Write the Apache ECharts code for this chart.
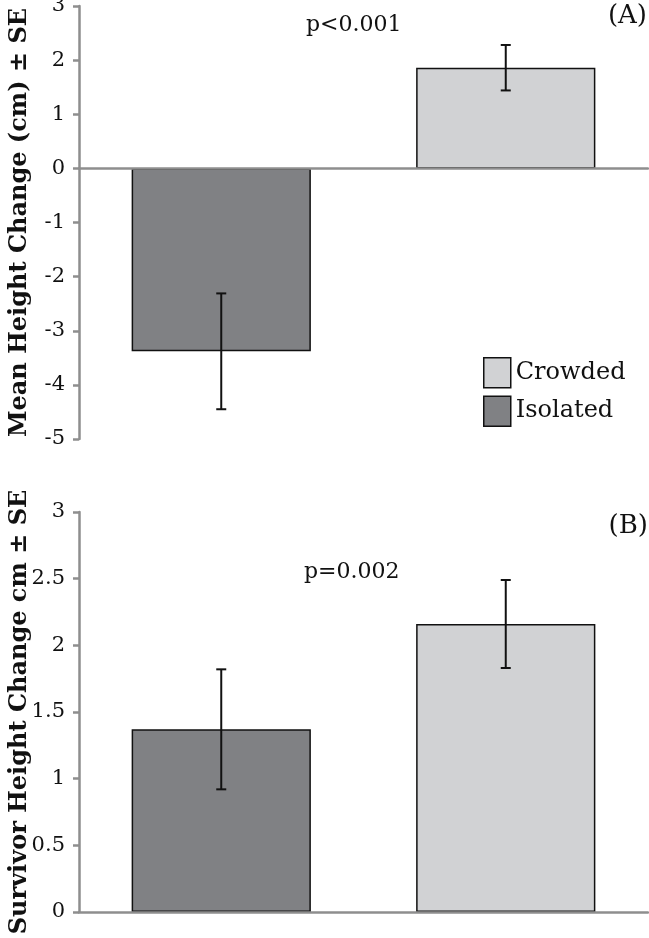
<!DOCTYPE html>
<html>
<head>
<meta charset="utf-8">
<script src="https://cdn.jsdelivr.net/npm/echarts@6/dist/echarts.min.js"></script>
<style>
html,body{margin:0;padding:0;background:#fff;}
#chart{width:649px;height:938px;}
</style>
</head>
<body>
<div id="chart"></div>
<script>
const categories = ['Isolated', 'Crowded'];
const legendNames = ['Crowded', 'Isolated'];
// Panel A: mean height change (cm) and SE
const meanA = [-3.38, 1.86];
const seA = [1.07, 0.42];
// Panel B: survivor height change (cm) and SE
const meanB = [1.37, 2.16];
const seB = [0.45, 0.33];
const axisA = { min: -5, max: 3, interval: 1 };
const axisB = { min: 0, max: 3, interval: 0.5 };
const titleA = 'Mean Height Change (cm) ± SE';
const titleB = 'Survivor Height Change cm ± SE';
const pA = 'p<0.001';
const pB = 'p=0.002';
const panelA = '(A)';
const panelB = '(B)';

const colors = { Isolated: '#808184', Crowded: '#d1d2d4' };
const FONT = 'DejaVu Serif';
const AXIS_GRAY = '#8e8e8e';

function seriesFor(mean, idx) {
  return categories.map((name, i) => ({
    name: name,
    type: 'bar',
    xAxisIndex: idx, yAxisIndex: idx,
    barGap: '-100%',
    barCategoryGap: '37%',
    data: categories.map((c, j) => (j === i ? mean[j] : '-')),
    itemStyle: { color: colors[name], borderColor: '#111', borderWidth: 1.5 },
    emphasis: { disabled: true },
    z: 2
  }));
}

function errorSeries(mean, se, idx) {
  return {
    type: 'custom',
    xAxisIndex: idx, yAxisIndex: idx,
    data: mean.map((m, i) => [i, m - se[i], m + se[i]]),
    encode: { x: 0, y: [1, 2] },
    z: 10,
    silent: true,
    renderItem: function (params, api) {
      const x = api.value(0);
      const lo = api.coord([x, api.value(1)]);
      const hi = api.coord([x, api.value(2)]);
      const hw = 5;
      const st = { stroke: '#111', lineWidth: 2 };
      return {
        type: 'group',
        children: [
          { type: 'line', shape: { x1: lo[0], y1: lo[1], x2: hi[0], y2: hi[1] }, style: st },
          { type: 'line', shape: { x1: lo[0] - hw, y1: lo[1], x2: lo[0] + hw, y2: lo[1] }, style: st },
          { type: 'line', shape: { x1: hi[0] - hw, y1: hi[1], x2: hi[0] + hw, y2: hi[1] }, style: st }
        ]
      };
    }
  };
}

function yAxisFor(ax, idx, name) {
  return {
    type: 'value', gridIndex: idx,
    min: ax.min, max: ax.max, interval: ax.interval,
    name: name, nameLocation: 'middle', nameRotate: 90, nameGap: 47,
    nameMoveOverlap: false,
    nameTextStyle: { fontFamily: FONT, fontWeight: 'bold', fontSize: 24, color: '#111' },
    axisLine: { show: true, lineStyle: { color: AXIS_GRAY, width: 2.5 } },
    axisTick: { show: true, inside: false, length: 6, lineStyle: { color: AXIS_GRAY, width: 2.5 } },
    axisLabel: { fontFamily: FONT, fontSize: 21, color: '#111', margin: 14 },
    splitLine: { show: false }
  };
}

function xAxisFor(idx) {
  return {
    type: 'category', gridIndex: idx, data: categories,
    axisLine: { show: true, onZero: true, lineStyle: { color: AXIS_GRAY, width: 2.5 } },
    axisTick: { show: false },
    axisLabel: { show: false },
    z: 5
  };
}

const chart = echarts.init(document.getElementById('chart'), null, { renderer: 'canvas' });
chart.setOption({
  animation: false,
  backgroundColor: '#fff',
  grid: [
    { left: 79, right: 1, top: 6, height: 433, outerBoundsMode: 'none', containLabel: false },
    { left: 79, right: 1, top: 512, height: 400, outerBoundsMode: 'none', containLabel: false }
  ],
  xAxis: [xAxisFor(0), xAxisFor(1)],
  yAxis: [yAxisFor(axisA, 0, titleA), yAxisFor(axisB, 1, titleB)],
  legend: {
    data: legendNames,
    orient: 'vertical',
    left: 483, top: 357,
    padding: 0,
    itemWidth: 27, itemHeight: 30, itemGap: 7,
    icon: 'rect',
    selectedMode: false,
    itemStyle: { borderColor: '#111', borderWidth: 1.5 },
    textStyle: { fontFamily: FONT, fontSize: 24, color: '#111' }
  },
  graphic: [
    { type: 'text', left: 306, top: 14, style: { text: pA, font: '22px "DejaVu Serif"', fill: '#111' } },
    { type: 'text', right: 2, top: 3, style: { text: panelA, font: '26px "DejaVu Serif"', fill: '#111' } },
    { type: 'text', left: 304, top: 561, style: { text: pB, font: '22px "DejaVu Serif"', fill: '#111' } },
    { type: 'text', right: 1, top: 513, style: { text: panelB, font: '26px "DejaVu Serif"', fill: '#111' } }
  ],
  series: [].concat(
    seriesFor(meanA, 0),
    seriesFor(meanB, 1),
    [errorSeries(meanA, seA, 0), errorSeries(meanB, seB, 1)]
  )
});
</script>
</body>
</html>
